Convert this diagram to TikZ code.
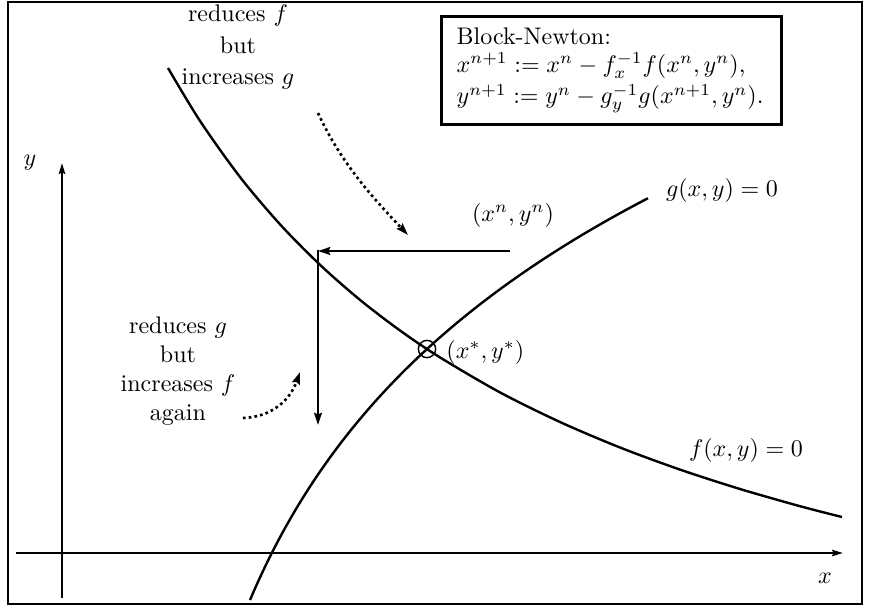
\documentclass[tikz,border=0pt]{standalone}
\usetikzlibrary{arrows.meta}
\begin{document}
\begin{tikzpicture}[x=0.4167pt,y=-0.4167pt,
  frame/.style={line width=1.2pt},
  curve/.style={line width=1pt},
  axis/.style={line width=1.2pt,-{Stealth[length=4.5pt,width=2.6pt,inset=0.6pt]}},
  itarrow/.style={line width=1.1pt,-{Stealth[length=5pt,width=3.2pt,inset=0.6pt]}},
  dotarrow/.style={line width=1.1pt,dash pattern=on 1.1pt off 1.3pt,-{Stealth[length=5pt,width=3.2pt,inset=0.6pt]}},
  lbl/.style={inner sep=0pt,align=center}]
\useasboundingbox (0,0) rectangle (870,610);
% outer frame
\draw[frame] (8,2) rectangle (862,604);
% axes
\coordinate (xa0) at (16,553);
\coordinate (xa1) at (843,553);
\coordinate (ya0) at (62,598);
\coordinate (ya1) at (62,163);
\draw[axis] (xa0) -- (xa1);
\draw[axis] (ya0) -- (ya1);
\node[lbl] (xl) at (825,578) {$x$};
\node[lbl] (yl) at (30,163) {$y$};
% f(x,y)=0
\draw[curve] plot[smooth] coordinates {(168,68) (200,120.9) (240,177) (280,224.3) (320,264.8) (360,299.9) (400,330.5) (440,357.4) (500,392.4) (560,422) (620,447.5) (680,469.6) (740,489) (800,506.2) (842,517)};
% g(x,y)=0
\draw[curve] plot[domain=250:648,samples=80,smooth] (\x,{1858.9-266.3*ln(\x-137)});
\node[lbl] (fl) at (746,450) {$f(x,y)=0$};
\node[lbl] (gl) at (722,190) {$g(x,y)=0$};
% solution
\node[draw,circle,line width=0.6pt,minimum size=7.2pt,inner sep=0pt] (sol) at (427,349) {};
\node[lbl,anchor=west] (soll) at (446,352) {$(x^*,y^*)$};
% iteration
\node[lbl] (xnl) at (513,215) {$(x^n,y^n)$};
\coordinate (xn) at (510,251);
\coordinate (corner) at (318,251);
\coordinate (yend) at (318,425);
\draw[itarrow] (xn) -- (corner);
\draw[itarrow] ([yshift=0.5pt]corner) -- (yend);
% explanation labels
\node[lbl] (lf) at (238,47) {reduces $f$\\[1pt]but\\[1pt]increases $g$};
\node[lbl] (lg) at (178,371) {reduces $g$\\but\\increases $f$\\again};
\coordinate (d1s) at (318,113);
\coordinate (d1e) at (408,235);
\draw[dotarrow] (d1s) .. controls (342,165) and (375,200) .. (d1e);
\coordinate (d2s) at (243,418);
\coordinate (d2e) at (300,372);
\draw[dotarrow] (d2s) .. controls (272,417) and (290,400) .. (d2e);
% Block-Newton box
\node[draw,frame,anchor=north west,minimum width=141.7pt,minimum height=45pt,
  text width=129pt,inner xsep=6pt,align=left] (box) at (440,15)
  {Block-Newton:\\[-0.5pt]
   $x^{n+1} := x^n - f_x^{-1} f(x^n,y^n)$,\\[1.2pt]
   $y^{n+1} := y^n - g_y^{-1} g(x^{n+1},y^n)$.};
\end{tikzpicture}
\end{document}
